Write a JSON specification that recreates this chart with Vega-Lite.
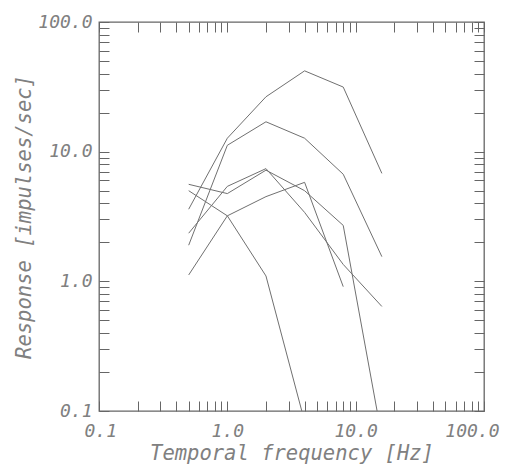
{
  "$schema": "https://vega.github.io/schema/vega-lite/v6.json",
  "width": 385,
  "height": 389,
  "autosize": {"type": "none"},
  "padding": {"left": 99, "top": 22, "right": 21, "bottom": 60},
  "background": "white",
  "config": {
    "view": {"stroke": "#666", "strokeWidth": 1.3},
    "axis": {
      "grid": false,
      "domain": false,
      "offset": -10,
      "tickColor": "#666",
      "tickWidth": 1,
      "tickSize": 10,
      "labelFont": "DejaVu Sans Mono",
      "labelFontStyle": "italic",
      "labelFontSize": 18,
      "labelColor": "#808080",
      "titleFont": "DejaVu Sans Mono",
      "titleFontStyle": "italic",
      "titleFontWeight": "normal",
      "titleFontSize": 20.5,
      "titleColor": "#808080"
    }
  },
  "data": {
    "values": [
      {"curve": "A", "freq": 0.5, "resp": 3.6},
      {"curve": "A", "freq": 1, "resp": 12.7},
      {"curve": "A", "freq": 2, "resp": 26.5},
      {"curve": "A", "freq": 4, "resp": 42},
      {"curve": "A", "freq": 8, "resp": 31.5},
      {"curve": "A", "freq": 16, "resp": 6.8},
      {"curve": "B", "freq": 0.5, "resp": 1.9},
      {"curve": "B", "freq": 1, "resp": 11.2},
      {"curve": "B", "freq": 2, "resp": 17},
      {"curve": "B", "freq": 4, "resp": 12.7},
      {"curve": "B", "freq": 8, "resp": 6.7},
      {"curve": "B", "freq": 16, "resp": 1.55},
      {"curve": "C", "freq": 0.5, "resp": 5.6},
      {"curve": "C", "freq": 1, "resp": 4.75},
      {"curve": "C", "freq": 2, "resp": 7.2},
      {"curve": "C", "freq": 4, "resp": 5.0},
      {"curve": "C", "freq": 8, "resp": 2.7},
      {"curve": "C", "freq": 16, "resp": 0.063},
      {"curve": "D", "freq": 0.5, "resp": 2.35},
      {"curve": "D", "freq": 1, "resp": 5.4},
      {"curve": "D", "freq": 2, "resp": 7.4},
      {"curve": "D", "freq": 4, "resp": 3.4},
      {"curve": "D", "freq": 8, "resp": 1.35},
      {"curve": "D", "freq": 16, "resp": 0.64},
      {"curve": "E", "freq": 0.5, "resp": 1.12},
      {"curve": "E", "freq": 1, "resp": 3.2},
      {"curve": "E", "freq": 2, "resp": 4.5},
      {"curve": "E", "freq": 4, "resp": 5.8},
      {"curve": "E", "freq": 8, "resp": 0.91},
      {"curve": "F", "freq": 0.5, "resp": 5.0},
      {"curve": "F", "freq": 1, "resp": 3.2},
      {"curve": "F", "freq": 2, "resp": 1.1},
      {"curve": "F", "freq": 4, "resp": 0.083}
    ]
  },
  "layer": [
    {
      "mark": {"type": "line", "clip": true, "color": "#707070", "strokeWidth": 1},
      "encoding": {
        "x": {
          "field": "freq", "type": "quantitative",
          "scale": {"type": "log", "domain": [0.1, 100], "nice": false},
          "axis": {
            "orient": "bottom",
            "values": [0.1,0.2,0.3,0.4,0.5,0.6,0.7,0.8,0.9,1,2,3,4,5,6,7,8,9,10,20,30,40,50,60,70,80,90,100],
            "labelExpr": "datum.value == 0.1 || datum.value == 1 || datum.value == 10 || datum.value == 100 ? format(datum.value, '.1f') : ''",
            "labelPadding": 11,
            "labelFlush": true,
            "labelFlushOffset": 15,
            "title": "Temporal frequency [Hz]",
            "titlePadding": 3
          }
        },
        "y": {
          "field": "resp", "type": "quantitative",
          "scale": {"type": "log", "domain": [0.1, 100], "nice": false},
          "axis": {
            "orient": "left",
            "values": [0.1,0.2,0.3,0.4,0.5,0.6,0.7,0.8,0.9,1,2,3,4,5,6,7,8,9,10,20,30,40,50,60,70,80,90,100],
            "labelExpr": "datum.value == 0.1 || datum.value == 1 || datum.value == 10 || datum.value == 100 ? format(datum.value, '.1f') : ''",
            "labelPadding": 7,
            "title": "Response [impulses/sec]",
            "titlePadding": 3
          }
        },
        "detail": {"field": "curve"}
      }
    },
    {
      "mark": {"type": "line", "opacity": 0},
      "encoding": {
        "x": {
          "field": "freq", "type": "quantitative",
          "axis": {
            "orient": "top",
            "values": [0.1,0.2,0.3,0.4,0.5,0.6,0.7,0.8,0.9,1,2,3,4,5,6,7,8,9,10,20,30,40,50,60,70,80,90,100],
            "labels": false,
            "title": null
          }
        },
        "y": {
          "field": "resp", "type": "quantitative",
          "axis": {
            "orient": "right",
            "values": [0.1,0.2,0.3,0.4,0.5,0.6,0.7,0.8,0.9,1,2,3,4,5,6,7,8,9,10,20,30,40,50,60,70,80,90,100],
            "labels": false,
            "title": null
          }
        },
        "detail": {"field": "curve"}
      }
    }
  ],
  "resolve": {"axis": {"x": "independent", "y": "independent"}}
}
